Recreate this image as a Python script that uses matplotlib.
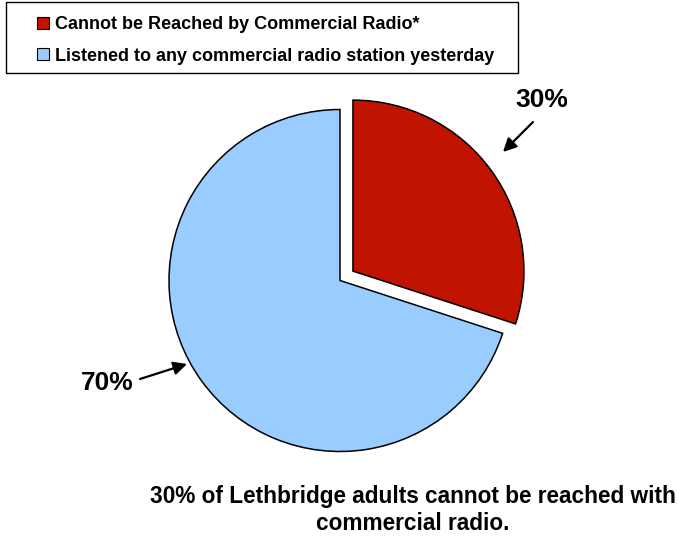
import matplotlib
matplotlib.use("Agg")
import matplotlib.pyplot as plt
from matplotlib.patches import Patch, Rectangle

plt.rcParams['font.family'] = ['Liberation Sans', 'DejaVu Sans']

# данные
labels = ['Cannot be Reached by Commercial Radio*',
          'Listened to any commercial radio station yesterday']
values = [30, 70]
pct_labels = ['30%', '70%']
colors = ['#C01400', '#99CCFF']
caption = '30% of Lethbridge adults cannot be reached with\ncommercial radio.'

W, H = 678, 541
fig = plt.figure(figsize=(W / 100, H / 100), dpi=100)
ax = fig.add_axes([0, 0, 1, 1])

# пирог в пиксельных координатах (y снизу вверх)
cx, cy, r = 340, H - 280.5, 171
ax.pie(values, colors=colors, startangle=90, counterclock=False,
       explode=[16, 0], center=(cx, cy), radius=r, frame=True,
       wedgeprops=dict(edgecolor='black', linewidth=1.1))
ax.set_xlim(0, W)
ax.set_ylim(0, H)
ax.set_aspect('auto')
ax.axis('off')

# подписи процентов со стрелками
arrow = dict(arrowstyle='-|>', color='black', lw=1.6,
             mutation_scale=20, shrinkA=0, shrinkB=0)
ax.text(542, H - 100, pct_labels[0], ha='center', va='center',
        fontsize=19, fontweight='bold')
ax.annotate('', xy=(503, H - 152), xytext=(533, H - 122), arrowprops=arrow)
ax.text(107, H - 383, pct_labels[1], ha='center', va='center',
        fontsize=19, fontweight='bold')
ax.annotate('', xy=(187, H - 364), xytext=(140, H - 379), arrowprops=arrow)

# легенда: рамка отдельно
ax.add_patch(Rectangle((6, H - 73), 512, 71, facecolor='white',
                       edgecolor='black', linewidth=1.0))
handles = [Patch(facecolor=c, edgecolor='black', linewidth=0.8) for c in colors]
leg = fig.legend(handles, labels, loc='upper left',
                 bbox_to_anchor=(37 / W, 1 - 16 / H),
                 prop=dict(size=13, weight='bold'), frameon=False,
                 borderpad=0, handlelength=0.65, handleheight=0.65,
                 handletextpad=0.35, labelspacing=0.82, borderaxespad=0)

ax.text(413, H - 510, caption, ha='center', va='center',
        fontsize=16.3, fontweight='bold', linespacing=1.2)

fig.savefig('out.png', dpi=100)
